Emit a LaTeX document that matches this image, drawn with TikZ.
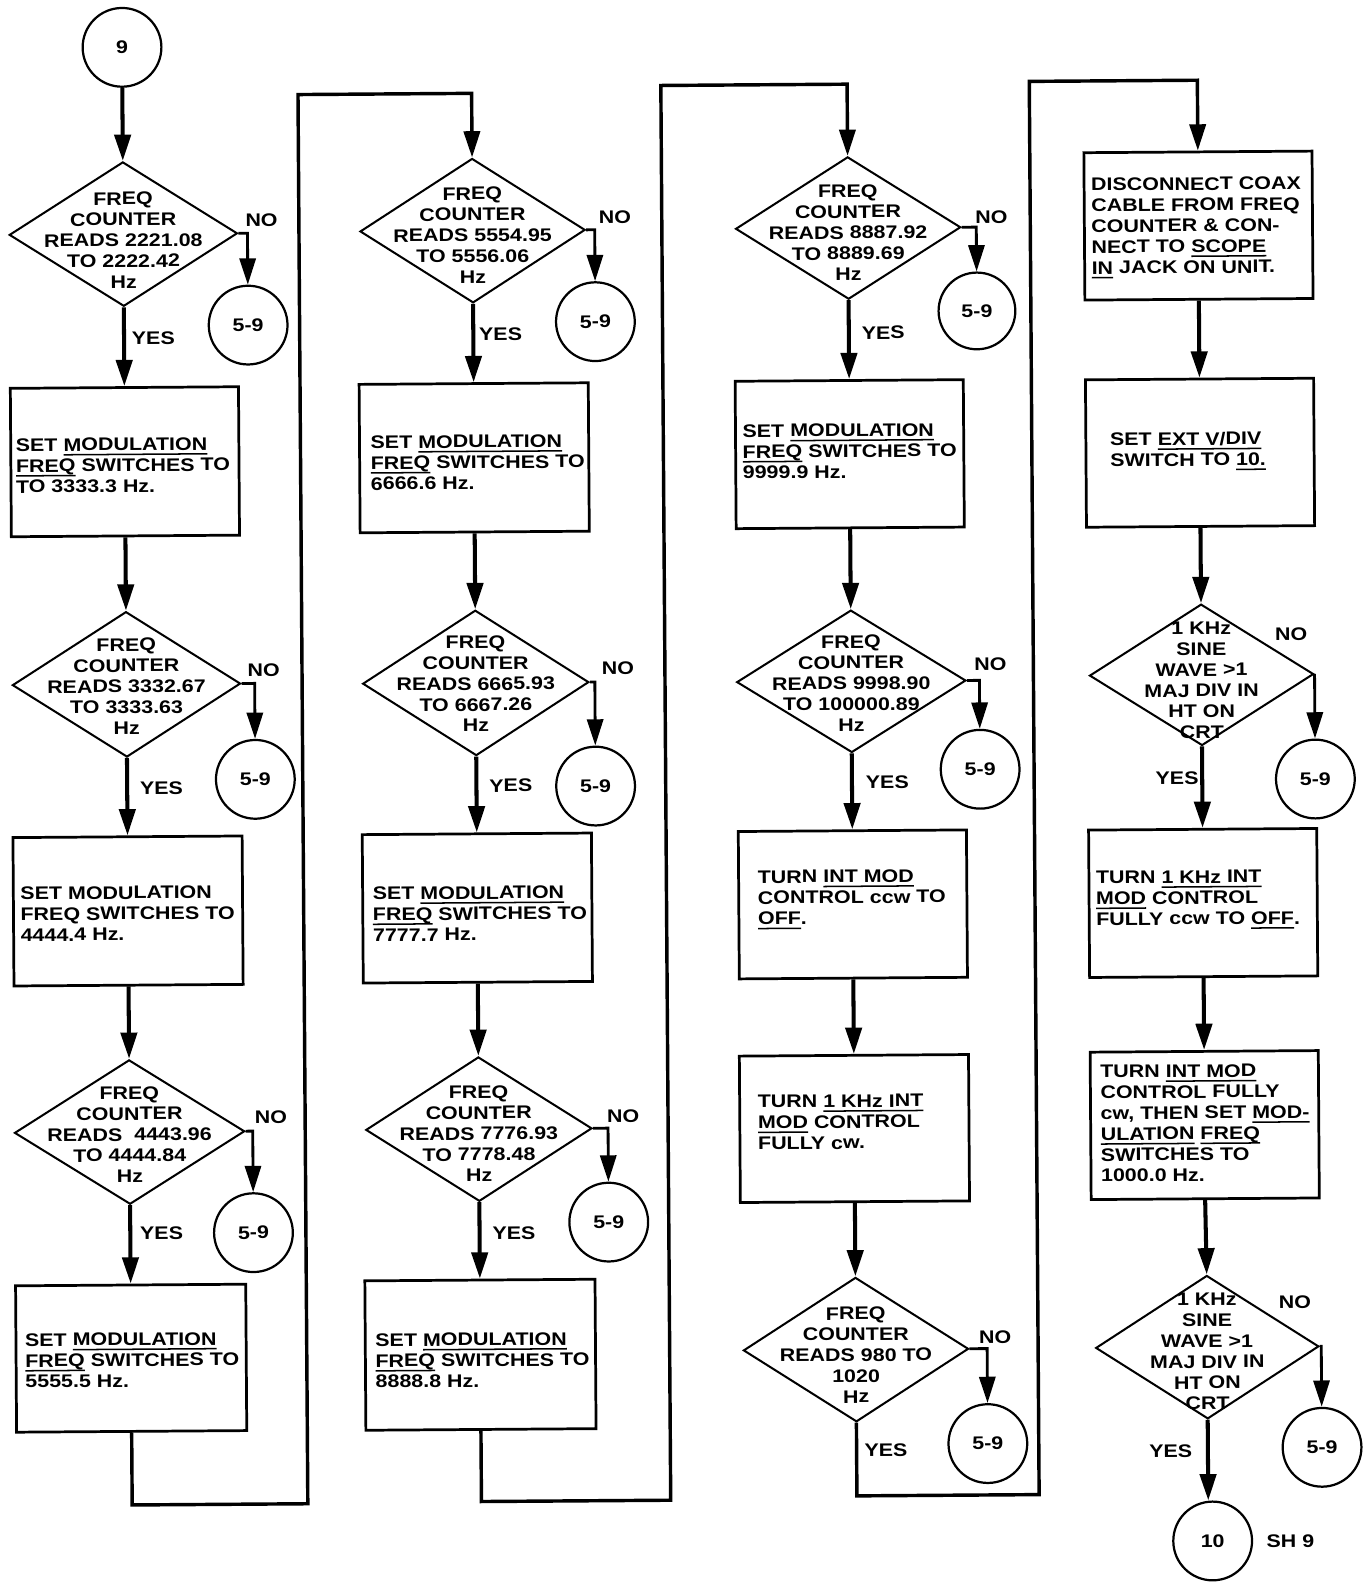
\documentclass[tikz,border=0pt]{standalone}
\usepackage{fontspec}
\setmainfont{Liberation Sans}[FakeStretch=1.18]
\usetikzlibrary{arrows.meta,shapes.geometric}
\newcommand\lblfont{\bfseries\fontsize{9pt}{10.3pt}\selectfont}
\newsavebox\undbox
\newcommand\und[1]{\sbox\undbox{#1}\rlap{\rule[-2.2pt]{\wd\undbox}{0.75pt}}\usebox\undbox}
\begin{document}
\begin{tikzpicture}[x=0.5pt,y=-0.5pt,
  >={Triangle[length=13pt,width=8pt]},
  box/.style={draw,line width=1.35pt,inner sep=0pt,minimum width=113pt,minimum height=73pt},
  dia/.style={diamond,draw,line width=1pt,inner sep=0pt,minimum width=112pt,minimum height=71.5pt},
  cir/.style={circle,draw,line width=1.1pt,inner sep=0pt,minimum size=39pt,font=\lblfont},
  txt/.style={font=\lblfont,inner sep=0pt},
  btxt/.style={txt,align=left,anchor=west},
  dtxt/.style={txt,align=center},
  flow/.style={line width=2pt,->},
  nob/.style={line width=1.4pt,->},
  loopl/.style={line width=1.7pt,->}
]
\fill[white] (0,0) rectangle (1356,1568);
\useasboundingbox (0,0) rectangle (1356,1568);
\begin{scope}[rotate around={0.4:(678,784)},transform shape]
% ---------------- column 1
\node[cir] (c9) at (126,43) {9};
\node[dia,minimum width=113pt] (d1) at (126,228) {};
\node[dtxt] (d1t) at ([yshift=-3pt]d1.center) {FREQ\\COUNTER\\READS 2221.08\\TO 2222.42\\Hz};
\node[cir] (n1) at (249,319) {5-9};
\node[box,minimum height=73.5pt] (b1) at (126,453.5) {};
\node[btxt] (b1t) at ([xshift=3pt,yshift=-1.75pt]b1.west) {SET \und{MODULATION}\\\und{FREQ} SWITCHES TO\\TO 3333.3 Hz.};
\node[dia,minimum width=113pt,minimum height=72pt] (d2) at (126,674) {};
\node[dtxt] (d2t) at ([yshift=-1pt]d2.center) {FREQ\\COUNTER\\READS 3332.67\\TO 3333.63\\Hz};
\node[cir] (n2) at (253,769) {5-9};
\node[box,minimum width=113.5pt,minimum height=73.5pt] (b2) at (126,898.5) {};
\node[btxt] (b2t) at ([xshift=4pt,yshift=-1.25pt]b2.west) {SET MODULATION\\FREQ SWITCHES TO\\4444.4 Hz.};
\node[dia,minimum width=114pt] (d3) at (126,1117.5) {};
\node[dtxt] (d3t) at ([yshift=-1.25pt]d3.center) {FREQ\\COUNTER\\READS\ \ 4443.96\\TO 4444.84\\Hz};
\node[cir] (n3) at (248,1218) {5-9};
\node[box,minimum width=114pt,minimum height=72.5pt] (b3) at (126,1341.5) {};
\node[btxt] (b3t) at ([xshift=5pt,yshift=-1pt]b3.west) {SET \und{MODULATION}\\\und{FREQ} SWITCHES TO\\5555.5 Hz.};
% ---------------- column 2
\node[dia,minimum width=111.5pt] (d4) at (472,227) {};
\node[dtxt] (d4t) at ([yshift=-2.25pt]d4.center) {FREQ\\COUNTER\\READS 5554.95\\TO 5556.06\\Hz};
\node[cir] (n4) at (593,318) {5-9};
\node[box,minimum width=113.5pt,minimum height=73.5pt] (b4) at (472,452) {};
\node[btxt] (b4t) at ([xshift=6pt,yshift=-2.25pt]b4.west) {SET \und{MODULATION}\\\und{FREQ} SWITCHES TO\\6666.6 Hz.};
\node[dia,minimum height=72pt] (d5) at (472,675) {};
\node[dtxt] (d5t) at ([yshift=-0.5pt]d5.center) {FREQ\\COUNTER\\READS 6665.93\\TO 6667.26\\Hz};
\node[cir] (n5) at (590,778) {5-9};
\node[box,minimum width=113.5pt,minimum height=73.5pt] (b5) at (472,898) {};
\node[btxt] (b5t) at ([xshift=5.5pt,yshift=-2.75pt]b5.west) {SET \und{MODULATION}\\\und{FREQ} SWITCHES TO\\7777.7 Hz.};
\node[dia] (d6) at (472,1117) {};
\node[dtxt] (d6t) at ([yshift=-2.25pt]d6.center) {FREQ\\COUNTER\\READS 7776.93\\TO 7778.48\\Hz};
\node[cir] (n6) at (600,1210) {5-9};
\node[box,minimum width=114pt,minimum height=74pt] (b6) at (472,1340.5) {};
\node[btxt] (b6t) at ([xshift=5.5pt,yshift=-2.75pt]b6.west) {SET \und{MODULATION}\\\und{FREQ} SWITCHES TO\\8888.8 Hz.};
% ---------------- column 3
\node[dia,minimum width=111.5pt,minimum height=70.5pt] (d7) at (844,227) {};
\node[dtxt] (d7t) at ([yshift=-2.25pt]d7.center) {FREQ\\COUNTER\\READS 8887.92\\TO 8889.69\\Hz};
\node[cir,minimum size=38pt] (n7) at (971,310) {5-9};
\node[box] (b7) at (844,451) {};
\node[btxt] (b7t) at ([xshift=4pt,yshift=1.5pt]b7.west) {SET \und{MODULATION}\\\und{FREQ} SWITCHES TO\\9999.9 Hz.};
\node[dia,minimum width=113.5pt,minimum height=70.5pt] (d8) at (844,676) {};
\node[dtxt] (d8t) at ([yshift=-1pt]d8.center) {FREQ\\COUNTER\\READS 9998.90\\TO 100000.89\\Hz};
\node[cir] (n8) at (971,764) {5-9};
\node[box] (b8) at (844,897) {};
\node[btxt] (b8t) at ([xshift=10pt,yshift=2.5pt]b8.west) {TURN \und{INT MOD}\\CONTROL ccw TO\\\und{OFF}.};
\node[box,minimum width=113.5pt,minimum height=72.5pt] (b9) at (844,1119) {};
\node[btxt] (b9t) at ([xshift=9.5pt,yshift=3.25pt]b9.west) {TURN \und{1 KHz INT}\\\und{MOD} CONTROL\\FULLY cw.};
\node[dia,minimum width=111.5pt] (d9) at (844,1338) {};
\node[dtxt] (d9t) at ([yshift=-2.75pt]d9.center) {FREQ\\COUNTER\\READS 980 TO\\1020\\Hz};
\node[cir] (n9) at (974,1432) {5-9};
% ---------------- column 4
\node[box] (b10) at (1191,227) {};
\node[btxt] (b10t) at ([xshift=4pt,yshift=-1pt]b10.west) {DISCONNECT COAX\\CABLE FROM FREQ\\COUNTER \& CON-\\NECT TO \und{SCOPE}\\\und{IN} JACK ON UNIT.};
\node[box] (b11) at (1191,452) {};
\node[btxt] (b11t) at ([xshift=12.5pt,yshift=0.75pt]b11.west) {SET \und{EXT V/DIV}\\SWITCH TO \und{10.}};
\node[dia,minimum width=111pt,minimum height=70pt] (d10) at (1191,672) {};
\node[dtxt] (d10t) at ([yshift=-2.75pt]d10.center) {1 KHz\\SINE\\WAVE >1\\MAJ DIV IN\\HT ON\\CRT};
\node[cir] (n10) at (1303,776) {5-9};
\node[box] (b12) at (1191,898) {};
\node[btxt] (b12t) at ([xshift=4pt,yshift=1.5pt]b12.west) {TURN \und{1 KHz INT}\\\und{MOD} CONTROL\\FULLY ccw TO \und{OFF}.};
\node[box] (b13) at (1191,1118) {};
\node[btxt] (b13t) at ([xshift=5.5pt,yshift=1pt]b13.west) {TURN \und{INT MOD}\\CONTROL FULLY\\cw, THEN SET \und{MOD-}\\\und{ULATION} \und{FREQ}\\SWITCHES TO\\1000.0 Hz.};
\node[dia,minimum width=110.5pt,minimum height=71pt] (d11) at (1192,1338) {};
\node[dtxt] (d11t) at ([yshift=-2.25pt]d11.center) {1 KHz\\SINE\\WAVE >1\\MAJ DIV IN\\HT ON\\CRT};
\node[cir] (n11) at (1305,1438) {5-9};
\node[cir] (c10) at (1196,1530) {10};
\node[txt] (sh9) at (1273,1531) {SH 9};
% ---------------- labels
\node[txt] (no1) at (263,215) {NO};
\node[txt] (no2) at (262,661) {NO};
\node[txt] (no3) at (266,1104) {NO};
\node[txt] (no4) at (613,215) {NO};
\node[txt] (no5) at (613,661) {NO};
\node[txt] (no6) at (615,1105) {NO};
\node[txt] (no7) at (986,217) {NO};
\node[txt] (no8) at (982,660) {NO};
\node[txt] (no9) at (982,1327) {NO};
\node[txt] (no10) at (1280,632) {NO};
\node[txt] (no11) at (1279,1294) {NO};
\node[txt] (y1) at (155,331) {YES};
\node[txt] (y2) at (160,777) {YES};
\node[txt] (y3) at (157,1218) {YES};
\node[txt] (y4) at (499,330) {YES};
\node[txt] (y5) at (506,777) {YES};
\node[txt] (y6) at (506,1220) {YES};
\node[txt] (y7) at (878,331) {YES};
\node[txt] (y8) at (879,776) {YES};
\node[txt] (y9) at (873,1438) {YES};
\node[txt] (y10) at (1166,774) {YES};
\node[txt] (y11) at (1155,1441) {YES};
% ---------------- connectors
\draw[flow] (c9.south) -- (d1.north);
\draw[flow] (d1.south) -- (b1.north);
\draw[flow] (b1.south) -- (d2.north);
\draw[flow] (d2.south) -- (b2.north);
\draw[flow] (b2.south) -- (d3.north);
\draw[flow] (d3.south) -- (b3.north);
\draw[flow] (d4.south) -- (b4.north);
\draw[flow] (b4.south) -- (d5.north);
\draw[flow] (d5.south) -- (b5.north);
\draw[flow] (b5.south) -- (d6.north);
\draw[flow] (d6.south) -- (b6.north);
\draw[flow] (d7.south) -- (b7.north);
\draw[flow] (b7.south) -- (d8.north);
\draw[flow] (d8.south) -- (b8.north);
\draw[flow] (b8.south) -- (b9.north);
\draw[flow] (b9.south) -- (d9.north);
\draw[flow] (b10.south) -- (b11.north);
\draw[flow] (b11.south) -- (d10.north);
\draw[flow] (d10.south) -- (b12.north);
\draw[flow] (b12.south) -- (b13.north);
\draw[flow] (b13.south) -- (d11.north);
\draw[flow] (d11.south) -- (d11.south |- c10.north);
\draw[nob] (d1.east) -| (n1.north);
\draw[nob] (d2.east) -| (n2.north);
\draw[nob] (d3.east) -| (n3.north);
\draw[nob] (d4.east) -| (n4.north);
\draw[nob] (d5.east) -| (n5.north);
\draw[nob] (d6.east) -| (n6.north);
\draw[nob] (d7.east) -| (n7.north);
\draw[nob] (d8.east) -| (n8.north);
\draw[nob] (d9.east) -| (n9.north);
\draw[nob] (d10.east) -| (n10.north);
\draw[nob] (d11.east) -| (n11.north);
\coordinate (l1b) at (300,1487);
\coordinate (l1t) at (300,91);
\coordinate (l2b) at (659.5,1486);
\coordinate (l2t) at (659.5,84.5);
\coordinate (l3b) at (1024.5,1483);
\coordinate (l3t) at (1024.5,83);
\draw[loopl] (b3.south) |- (l1b) -- (l1t) -| (d4.north);
\draw[loopl] (b6.south) |- (l2b) -- (l2t) -| (d7.north);
\draw[loopl] (d9.south) |- (l3b) -- (l3t) -| (b10.north);
\end{scope}
\end{tikzpicture}
\end{document}
